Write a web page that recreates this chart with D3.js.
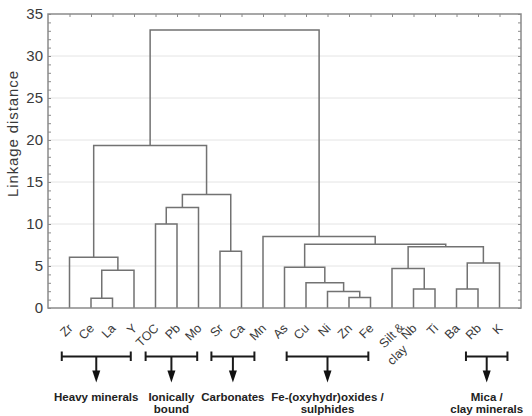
<!DOCTYPE html>
<html lang="en">
<head>
<meta charset="UTF-8">
<title>dendrogram</title>
<script src="https://d3js.org/d3.v7.min.js"></script>
<style>
  body { margin: 0; background: #fff; }
  svg { display: block; font-family: Arial, "Liberation Sans", sans-serif; }
</style>
</head>
<body>
<svg id="chart" width="532" height="416"></svg>
<script>
// leaves in dendrogram order
const leaves = ["Zr", "Ce", "La", "Y", "TOC", "Pb", "Mo", "Sr", "Ca", "Mn",
  "As", "Cu", "Ni", "Zn", "Fe", "Silt & clay", "Nb", "Ti", "Ba", "Rb", "K"];

// merges: [left node, right node, linkage distance]; new node ids start at leaves.length
const merges = [
  [1, 2, 1.15],    // 21 Ce-La
  [21, 3, 4.5],    // 22
  [0, 22, 6.05],   // 23
  [4, 5, 10.0],    // 24 TOC-Pb
  [24, 6, 11.95],  // 25
  [7, 8, 6.75],    // 26 Sr-Ca
  [25, 26, 13.5],  // 27
  [23, 27, 19.35], // 28
  [13, 14, 1.25],  // 29 Zn-Fe
  [12, 29, 1.95],  // 30
  [11, 30, 3.0],   // 31
  [10, 31, 4.85],  // 32
  [16, 17, 2.25],  // 33 Nb-Ti
  [15, 33, 4.7],   // 34
  [18, 19, 2.25],  // 35 Ba-Rb
  [35, 20, 5.35],  // 36
  [34, 36, 7.3],   // 37
  [32, 37, 7.6],   // 38
  [9, 38, 8.5],    // 39
  [28, 39, 33.1]   // 40
];

const yTicks = [0, 5, 10, 15, 20, 25, 30, 35];

const groupNames = [["Heavy minerals"], ["Ionically", "bound"], ["Carbonates"],
  ["Fe-(oxyhydr)oxides /", "sulphides"], ["Mica /", "clay minerals"]];
const groupFrom = [0.64, 4.54, 7.6, 11.1, 19.44];
const groupTo = [3.85, 6.94, 9.6, 14.9, 21.37];

const svg = d3.select("#chart");
const width = +svg.attr("width");
const margin = { top: 14, right: 11, bottom: 108, left: 48 };
const plotRight = width - margin.right;
const plotBottom = +svg.attr("height") - margin.bottom;

const x = d3.scaleLinear().domain([0, leaves.length + 1]).range([margin.left, plotRight]);
const y = d3.scaleLinear().domain([0, 35]).range([plotBottom, margin.top]);

const lineColor = "#727272";
const textColor = "#3a3a3a";

// grid
svg.append("g").selectAll("line")
  .data(yTicks.filter(t => t > 0 && t < 35))
  .join("line")
  .attr("x1", margin.left).attr("x2", plotRight)
  .attr("y1", d => y(d)).attr("y2", d => y(d))
  .attr("stroke", "#e4e4e4").attr("stroke-width", 1);

// node positions
const nodeX = leaves.map((d, i) => x(i + 1));
const nodeH = leaves.map(() => 0);
merges.forEach(m => {
  nodeX.push((nodeX[m[0]] + nodeX[m[1]]) / 2);
  nodeH.push(m[2]);
});

svg.append("g").selectAll("path")
  .data(merges)
  .join("path")
  .attr("d", m => `M${nodeX[m[0]]},${y(nodeH[m[0]])}V${y(m[2])}H${nodeX[m[1]]}V${y(nodeH[m[1]])}`)
  .attr("fill", "none")
  .attr("stroke", lineColor)
  .attr("stroke-width", 1.5);

// frame
svg.append("rect")
  .attr("x", margin.left).attr("y", margin.top)
  .attr("width", plotRight - margin.left).attr("height", plotBottom - margin.top)
  .attr("fill", "none").attr("stroke", "#8a8a8a").attr("stroke-width", 1.5);

// minor ticks, inside
const minor = d3.range(0, 36);
svg.append("g").attr("transform", `translate(${margin.left},0)`)
  .call(d3.axisLeft(y).tickValues(minor).tickSize(-3).tickFormat(""))
  .call(g => g.select(".domain").remove())
  .selectAll("line").attr("stroke", "#8a8a8a");
svg.append("g").attr("transform", `translate(${plotRight},0)`)
  .call(d3.axisRight(y).tickValues(minor).tickSize(-3).tickFormat(""))
  .call(g => g.select(".domain").remove())
  .selectAll("line").attr("stroke", "#8a8a8a");
svg.append("g").attr("transform", `translate(0,${margin.top})`)
  .call(d3.axisTop(x).tickValues(d3.range(1, leaves.length + 1)).tickSize(-3).tickFormat(""))
  .call(g => g.select(".domain").remove())
  .selectAll("line").attr("stroke", "#8a8a8a");

// y tick labels
svg.append("g").attr("transform", `translate(${margin.left},0)`)
  .call(d3.axisLeft(y).tickValues(yTicks).tickSize(0).tickPadding(5))
  .call(g => g.select(".domain").remove())
  .selectAll("text")
  .style("font-size", "15px")
  .attr("fill", textColor);

svg.append("text")
  .attr("transform", "translate(18,134) rotate(-90)")
  .attr("text-anchor", "middle")
  .attr("textLength", 126)
  .attr("lengthAdjust", "spacing")
  .style("font-size", "15px")
  .attr("fill", textColor)
  .text("Linkage distance");

// leaf labels
leaves.forEach((name, i) => {
  const lx = x(i + 1);
  if (name === "Silt & clay") {
    svg.append("text")
      .attr("transform", `translate(${lx + 13},328) rotate(-45)`)
      .attr("text-anchor", "end").style("font-size", "12.5px").attr("fill", textColor)
      .text("Silt &");
    svg.append("text")
      .attr("transform", `translate(${lx + 16},350) rotate(-45)`)
      .attr("text-anchor", "end").style("font-size", "12.5px").attr("fill", textColor)
      .text("clay");
  } else {
    svg.append("text")
      .attr("transform", `translate(${lx + 4},329) rotate(-45)`)
      .attr("text-anchor", "end").style("font-size", "12.5px").attr("fill", textColor)
      .text(name);
  }
});

// group annotations
const bracketY = 356.5;
groupNames.forEach((lines, i) => {
  const x0 = x(groupFrom[i]), x1 = x(groupTo[i]);
  const mid = (x0 + x1) / 2;
  const g = svg.append("g").attr("stroke", "#1a1a1a").attr("stroke-width", 2);
  g.append("line").attr("x1", x0).attr("x2", x1).attr("y1", bracketY).attr("y2", bracketY);
  g.append("line").attr("x1", x0).attr("x2", x0).attr("y1", bracketY - 5).attr("y2", bracketY + 4.5);
  g.append("line").attr("x1", x1).attr("x2", x1).attr("y1", bracketY - 5).attr("y2", bracketY + 4.5);
  g.append("line").attr("x1", mid).attr("x2", mid).attr("y1", bracketY).attr("y2", 372);
  svg.append("path")
    .attr("d", `M${mid - 4},370.5L${mid + 4},370.5L${mid},382.5Z`)
    .attr("fill", "#111");

  const t = svg.append("text")
    .attr("text-anchor", "middle")
    .style("font-size", "11.5px")
    .style("font-weight", "bold")
    .attr("fill", "#222");
  lines.forEach((l, j) => {
    t.append("tspan").attr("x", mid).attr("y", 400.5 + j * 12.5).text(l);
  });
  // keep text inside the right edge
  const bb = t.node().getBBox();
  if (bb.x + bb.width > width - 2) {
    const shift = bb.x + bb.width - (width - 2);
    t.selectAll("tspan").attr("x", mid - shift);
  }
});
</script>
</body>
</html>
